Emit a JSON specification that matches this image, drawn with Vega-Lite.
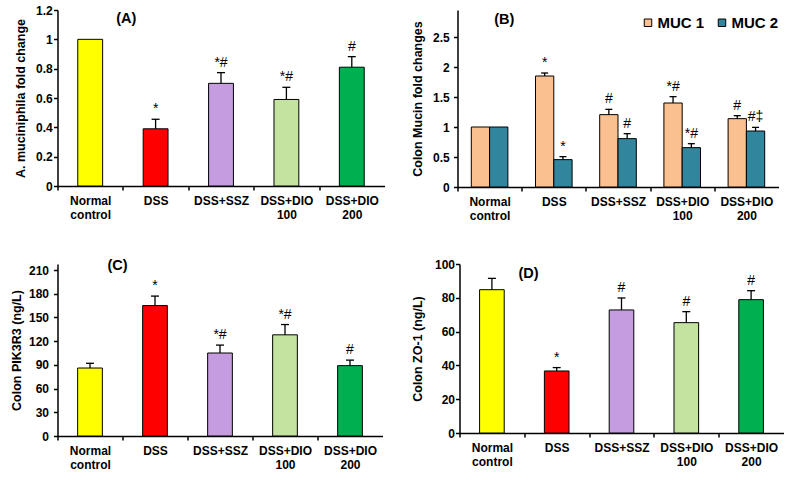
{
  "$schema": "https://vega.github.io/schema/vega-lite/v6.json",
  "padding": {"left": 9.5, "top": 4, "right": 0, "bottom": 0},
  "datasets": {
    "a": [
      {"group": "Normal control", "mean": 1.0, "upper": null, "sig": ""},
      {"group": "DSS", "mean": 0.39, "upper": 0.455, "sig": "*"},
      {"group": "DSS+SSZ", "mean": 0.70, "upper": 0.773, "sig": "*#"},
      {"group": "DSS+DIO 100", "mean": 0.59, "upper": 0.673, "sig": "*#"},
      {"group": "DSS+DIO 200", "mean": 0.81, "upper": 0.882, "sig": "#"}
    ],
    "b": [
      {"group": "Normal control", "series": "MUC 1", "mean": 1.0, "upper": null, "sig": ""},
      {"group": "Normal control", "series": "MUC 2", "mean": 1.0, "upper": null, "sig": ""},
      {"group": "DSS", "series": "MUC 1", "mean": 1.85, "upper": 1.90, "sig": "*"},
      {"group": "DSS", "series": "MUC 2", "mean": 0.456, "upper": 0.506, "sig": "*"},
      {"group": "DSS+SSZ", "series": "MUC 1", "mean": 1.206, "upper": 1.294, "sig": "#"},
      {"group": "DSS+SSZ", "series": "MUC 2", "mean": 0.806, "upper": 0.889, "sig": "#"},
      {"group": "DSS+DIO 100", "series": "MUC 1", "mean": 1.40, "upper": 1.506, "sig": "*#"},
      {"group": "DSS+DIO 100", "series": "MUC 2", "mean": 0.656, "upper": 0.722, "sig": "*#"},
      {"group": "DSS+DIO 200", "series": "MUC 1", "mean": 1.139, "upper": 1.189, "sig": "#"},
      {"group": "DSS+DIO 200", "series": "MUC 2", "mean": 0.933, "upper": 0.994, "sig": "#‡"}
    ],
    "c": [
      {"group": "Normal control", "mean": 86, "upper": 92, "sig": ""},
      {"group": "DSS", "mean": 165, "upper": 177, "sig": "*"},
      {"group": "DSS+SSZ", "mean": 105, "upper": 115, "sig": "*#"},
      {"group": "DSS+DIO 100", "mean": 128, "upper": 141, "sig": "*#"},
      {"group": "DSS+DIO 200", "mean": 89, "upper": 96, "sig": "#"}
    ],
    "d": [
      {"group": "Normal control", "mean": 84.8, "upper": 91.5, "sig": ""},
      {"group": "DSS", "mean": 36.7, "upper": 38.7, "sig": "*"},
      {"group": "DSS+SSZ", "mean": 72.8, "upper": 79.9, "sig": "#"},
      {"group": "DSS+DIO 100", "mean": 65.3, "upper": 71.8, "sig": "#"},
      {"group": "DSS+DIO 200", "mean": 78.9, "upper": 84.2, "sig": "#"}
    ]
  },
  "columns": 2,
  "align": "none",
  "spacing": {"row": 37, "column": 26},
  "resolve": {"scale": {"color": "independent", "x": "independent", "y": "independent"}},
  "concat": [
    {
      "width": 327, "height": 176,
      "layer": [
        {"data": {"name": "a"},
         "mark": {"type": "bar", "stroke": "#000000", "strokeWidth": 1},
         "encoding": {
           "x": {"field": "group", "type": "nominal", "sort": ["Normal control", "DSS", "DSS+SSZ", "DSS+DIO 100", "DSS+DIO 200"],
                 "scale": {"paddingInner": 0.62, "paddingOuter": 0.31},
                 "axis": {"title": null, "labelAngle": 0, "labelLineHeight": 14, "labelPadding": 5, "bandPosition": 0.5, "tickOffset": -32.7, "labelOffset": 32.7,
                          "labelExpr": "indexof(datum.value, ' ') > 0 ? split(datum.value, ' ') : datum.value"}},
           "y": {"field": "mean", "type": "quantitative", "scale": {"domain": [0, 1.2]},
                 "axis": {"values": [0, 0.2, 0.4, 0.6, 0.8, 1, 1.2], "tickCount": 20, "labelOverlap": false, "labelExpr": "toString(datum.value)", "title": "A. muciniphila fold change", "labelPadding": 1.3, "titlePadding": 8.3}},
           "color": {"field": "group", "type": "nominal", "legend": null,
                     "scale": {"domain": ["Normal control", "DSS", "DSS+SSZ", "DSS+DIO 100", "DSS+DIO 200"], "range": ["#FFFF00", "#FF0000", "#C49CDF", "#C4E3A0", "#00B050"]}}
         }},
        {"data": {"name": "a"},
         "transform": [{"filter": "isValid(datum.upper)"}],
         "mark": {"type": "rule", "color": "#000000", "strokeWidth": 1.3},
         "encoding": {"x": {"field": "group", "type": "nominal", "sort": ["Normal control", "DSS", "DSS+SSZ", "DSS+DIO 100", "DSS+DIO 200"]},
                      "y": {"field": "mean", "type": "quantitative"}, "y2": {"field": "upper"}}},
        {"data": {"name": "a"},
         "transform": [{"filter": "isValid(datum.upper)"}],
         "mark": {"type": "tick", "color": "#000000", "thickness": 1.3, "size": 8, "opacity": 1},
         "encoding": {"x": {"field": "group", "type": "nominal", "sort": ["Normal control", "DSS", "DSS+SSZ", "DSS+DIO 100", "DSS+DIO 200"]},
                      "y": {"field": "upper", "type": "quantitative"}}},
        {"data": {"name": "a"},
         "transform": [{"filter": "isValid(datum.upper)"}],
         "mark": {"type": "text", "baseline": "alphabetic", "dy": -6, "fontSize": 14, "color": "#000000"},
         "encoding": {"x": {"field": "group", "type": "nominal", "sort": ["Normal control", "DSS", "DSS+SSZ", "DSS+DIO 100", "DSS+DIO 200"]},
                      "y": {"field": "upper", "type": "quantitative"}, "text": {"field": "sig"}}},
        {"data": {"values": [{"label": "(A)"}]},
         "mark": {"type": "text", "align": "left", "baseline": "top", "dx": -39.4, "dy": 2, "fontSize": 14.5, "fontWeight": "bold", "color": "#000000"},
         "encoding": {"x": {"datum": "DSS", "type": "nominal"}, "y": {"datum": 1.2, "type": "quantitative"}, "text": {"field": "label"}}}
      ]
    },
    {
      "width": 321, "height": 177,
      "layer": [
        {"data": {"name": "b"},
         "mark": {"type": "bar", "stroke": "#000000", "strokeWidth": 1},
         "encoding": {
           "x": {"field": "group", "type": "nominal", "sort": ["Normal control", "DSS", "DSS+SSZ", "DSS+DIO 100", "DSS+DIO 200"],
                 "scale": {"paddingInner": 0.43, "paddingOuter": 0.215},
                 "axis": {"title": null, "labelAngle": 0, "labelLineHeight": 14, "labelPadding": 5, "bandPosition": 0.5, "tickOffset": -32.1, "labelOffset": 32.1,
                          "labelExpr": "indexof(datum.value, ' ') > 0 ? split(datum.value, ' ') : datum.value"}},
           "xOffset": {"field": "series", "type": "nominal", "sort": ["MUC 1", "MUC 2"], "scale": {"paddingInner": 0, "paddingOuter": 0}},
           "y": {"field": "mean", "type": "quantitative", "scale": {"domain": [0, 2.95], "nice": false},
                 "axis": {"values": [0, 0.5, 1, 1.5, 2, 2.5], "tickCount": 20, "labelOverlap": false, "labelExpr": "toString(datum.value)", "title": "Colon Mucin fold changes", "labelPadding": 4.3, "titlePadding": 8.4}},
           "color": {"field": "series", "type": "nominal",
                     "scale": {"domain": ["MUC 1", "MUC 2"], "range": ["#FAC090", "#31859C"]},
                     "legend": {"title": null, "orient": "none", "legendX": 172, "legendY": -6, "direction": "horizontal", "padding": 11,
                                "symbolType": "square", "symbolSize": 56, "symbolStrokeColor": "#000000", "symbolStrokeWidth": 1,
                                "labelFontSize": 15, "labelFontWeight": "bold", "labelColor": "#000000",
                                "columnPadding": 10, "labelOffset": 2}}
         }},
        {"data": {"name": "b"},
         "transform": [{"filter": "isValid(datum.upper)"}],
         "mark": {"type": "rule", "color": "#000000", "strokeWidth": 1.3},
         "encoding": {"x": {"field": "group", "type": "nominal", "sort": ["Normal control", "DSS", "DSS+SSZ", "DSS+DIO 100", "DSS+DIO 200"]},
                      "xOffset": {"field": "series", "type": "nominal", "sort": ["MUC 1", "MUC 2"]},
                      "y": {"field": "mean", "type": "quantitative"}, "y2": {"field": "upper"}}},
        {"data": {"name": "b"},
         "transform": [{"filter": "isValid(datum.upper)"}],
         "mark": {"type": "tick", "color": "#000000", "thickness": 1.3, "size": 7, "opacity": 1},
         "encoding": {"x": {"field": "group", "type": "nominal", "sort": ["Normal control", "DSS", "DSS+SSZ", "DSS+DIO 100", "DSS+DIO 200"]},
                      "xOffset": {"field": "series", "type": "nominal", "sort": ["MUC 1", "MUC 2"]},
                      "y": {"field": "upper", "type": "quantitative"}}},
        {"data": {"name": "b"},
         "transform": [{"filter": "isValid(datum.upper)"}],
         "mark": {"type": "text", "baseline": "alphabetic", "dy": -6, "fontSize": 14, "color": "#000000"},
         "encoding": {"x": {"field": "group", "type": "nominal", "sort": ["Normal control", "DSS", "DSS+SSZ", "DSS+DIO 100", "DSS+DIO 200"]},
                      "xOffset": {"field": "series", "type": "nominal", "sort": ["MUC 1", "MUC 2"]},
                      "y": {"field": "upper", "type": "quantitative"}, "text": {"field": "sig"}}},
        {"data": {"values": [{"label": "(B)"}]},
         "mark": {"type": "text", "align": "left", "baseline": "top", "dx": -59.6, "dy": -24.5, "fontSize": 14.5, "fontWeight": "bold", "color": "#000000"},
         "encoding": {"x": {"datum": "DSS", "type": "nominal"}, "y": {"datum": 2.5, "type": "quantitative"}, "text": {"field": "label"}}}
      ]
    },
    {
      "width": 325, "height": 172,
      "layer": [
        {"data": {"name": "c"},
         "mark": {"type": "bar", "stroke": "#000000", "strokeWidth": 1},
         "encoding": {
           "x": {"field": "group", "type": "nominal", "sort": ["Normal control", "DSS", "DSS+SSZ", "DSS+DIO 100", "DSS+DIO 200"],
                 "scale": {"paddingInner": 0.62, "paddingOuter": 0.31},
                 "axis": {"title": null, "labelAngle": 0, "labelLineHeight": 14, "labelPadding": 5, "bandPosition": 0.5, "tickOffset": -32.5, "labelOffset": 32.5,
                          "labelExpr": "indexof(datum.value, ' ') > 0 ? split(datum.value, ' ') : datum.value"}},
           "y": {"field": "mean", "type": "quantitative", "scale": {"domain": [0, 217.6], "nice": false},
                 "axis": {"values": [0, 30, 60, 90, 120, 150, 180, 210], "tickCount": 20, "labelOverlap": false, "labelExpr": "toString(datum.value)", "title": "Colon PIK3R3 (ng/L)", "labelPadding": 5, "titlePadding": 5}},
           "color": {"field": "group", "type": "nominal", "legend": null,
                     "scale": {"domain": ["Normal control", "DSS", "DSS+SSZ", "DSS+DIO 100", "DSS+DIO 200"], "range": ["#FFFF00", "#FF0000", "#C49CDF", "#C4E3A0", "#00B050"]}}
         }},
        {"data": {"name": "c"},
         "transform": [{"filter": "isValid(datum.upper)"}],
         "mark": {"type": "rule", "color": "#000000", "strokeWidth": 1.3},
         "encoding": {"x": {"field": "group", "type": "nominal", "sort": ["Normal control", "DSS", "DSS+SSZ", "DSS+DIO 100", "DSS+DIO 200"]},
                      "y": {"field": "mean", "type": "quantitative"}, "y2": {"field": "upper"}}},
        {"data": {"name": "c"},
         "transform": [{"filter": "isValid(datum.upper)"}],
         "mark": {"type": "tick", "color": "#000000", "thickness": 1.3, "size": 8, "opacity": 1},
         "encoding": {"x": {"field": "group", "type": "nominal", "sort": ["Normal control", "DSS", "DSS+SSZ", "DSS+DIO 100", "DSS+DIO 200"]},
                      "y": {"field": "upper", "type": "quantitative"}}},
        {"data": {"name": "c"},
         "transform": [{"filter": "isValid(datum.upper)"}],
         "mark": {"type": "text", "baseline": "alphabetic", "dy": -6, "fontSize": 14, "color": "#000000"},
         "encoding": {"x": {"field": "group", "type": "nominal", "sort": ["Normal control", "DSS", "DSS+SSZ", "DSS+DIO 100", "DSS+DIO 200"]},
                      "y": {"field": "upper", "type": "quantitative"}, "text": {"field": "sig"}}},
        {"data": {"values": [{"label": "(C)"}]},
         "mark": {"type": "text", "align": "left", "baseline": "top", "dx": -47.5, "dy": -11, "fontSize": 14.5, "fontWeight": "bold", "color": "#000000"},
         "encoding": {"x": {"datum": "DSS", "type": "nominal"}, "y": {"datum": 210, "type": "quantitative"}, "text": {"field": "label"}}}
      ]
    },
    {
      "width": 324, "height": 169,
      "layer": [
        {"data": {"name": "d"},
         "mark": {"type": "bar", "stroke": "#000000", "strokeWidth": 1},
         "encoding": {
           "x": {"field": "group", "type": "nominal", "sort": ["Normal control", "DSS", "DSS+SSZ", "DSS+DIO 100", "DSS+DIO 200"],
                 "scale": {"paddingInner": 0.62, "paddingOuter": 0.31},
                 "axis": {"title": null, "labelAngle": 0, "labelLineHeight": 14, "labelPadding": 5, "bandPosition": 0.5, "tickOffset": -32.4, "labelOffset": 32.4,
                          "labelExpr": "indexof(datum.value, ' ') > 0 ? split(datum.value, ' ') : datum.value"}},
           "y": {"field": "mean", "type": "quantitative", "scale": {"domain": [0, 100]},
                 "axis": {"values": [0, 20, 40, 60, 80, 100], "tickCount": 20, "labelOverlap": false, "labelExpr": "toString(datum.value)", "title": "Colon ZO-1 (ng/L)", "labelPadding": 1, "titlePadding": 10}},
           "color": {"field": "group", "type": "nominal", "legend": null,
                     "scale": {"domain": ["Normal control", "DSS", "DSS+SSZ", "DSS+DIO 100", "DSS+DIO 200"], "range": ["#FFFF00", "#FF0000", "#C49CDF", "#C4E3A0", "#00B050"]}}
         }},
        {"data": {"name": "d"},
         "transform": [{"filter": "isValid(datum.upper)"}],
         "mark": {"type": "rule", "color": "#000000", "strokeWidth": 1.3},
         "encoding": {"x": {"field": "group", "type": "nominal", "sort": ["Normal control", "DSS", "DSS+SSZ", "DSS+DIO 100", "DSS+DIO 200"]},
                      "y": {"field": "mean", "type": "quantitative"}, "y2": {"field": "upper"}}},
        {"data": {"name": "d"},
         "transform": [{"filter": "isValid(datum.upper)"}],
         "mark": {"type": "tick", "color": "#000000", "thickness": 1.3, "size": 8, "opacity": 1},
         "encoding": {"x": {"field": "group", "type": "nominal", "sort": ["Normal control", "DSS", "DSS+SSZ", "DSS+DIO 100", "DSS+DIO 200"]},
                      "y": {"field": "upper", "type": "quantitative"}}},
        {"data": {"name": "d"},
         "transform": [{"filter": "isValid(datum.upper)"}],
         "mark": {"type": "text", "baseline": "alphabetic", "dy": -6, "fontSize": 14, "color": "#000000"},
         "encoding": {"x": {"field": "group", "type": "nominal", "sort": ["Normal control", "DSS", "DSS+SSZ", "DSS+DIO 100", "DSS+DIO 200"]},
                      "y": {"field": "upper", "type": "quantitative"}, "text": {"field": "sig"}}},
        {"data": {"values": [{"label": "(D)"}]},
         "mark": {"type": "text", "align": "left", "baseline": "top", "dx": -38.2, "dy": 3, "fontSize": 14.5, "fontWeight": "bold", "color": "#000000"},
         "encoding": {"x": {"datum": "DSS", "type": "nominal"}, "y": {"datum": 100, "type": "quantitative"}, "text": {"field": "label"}}}
      ]
    }
  ],
  "config": {
    "font": "Liberation Sans",
    "view": {"stroke": null},
    "axis": {"labelFontWeight": "bold", "labelFontSize": 12, "labelColor": "#000000", "titleFontWeight": "bold", "titleFontSize": 12.5, "titleColor": "#000000",
             "domainColor": "#000000", "domainWidth": 1.5, "tickColor": "#000000", "tickWidth": 1.5, "tickSize": 4, "grid": false}
  }
}
